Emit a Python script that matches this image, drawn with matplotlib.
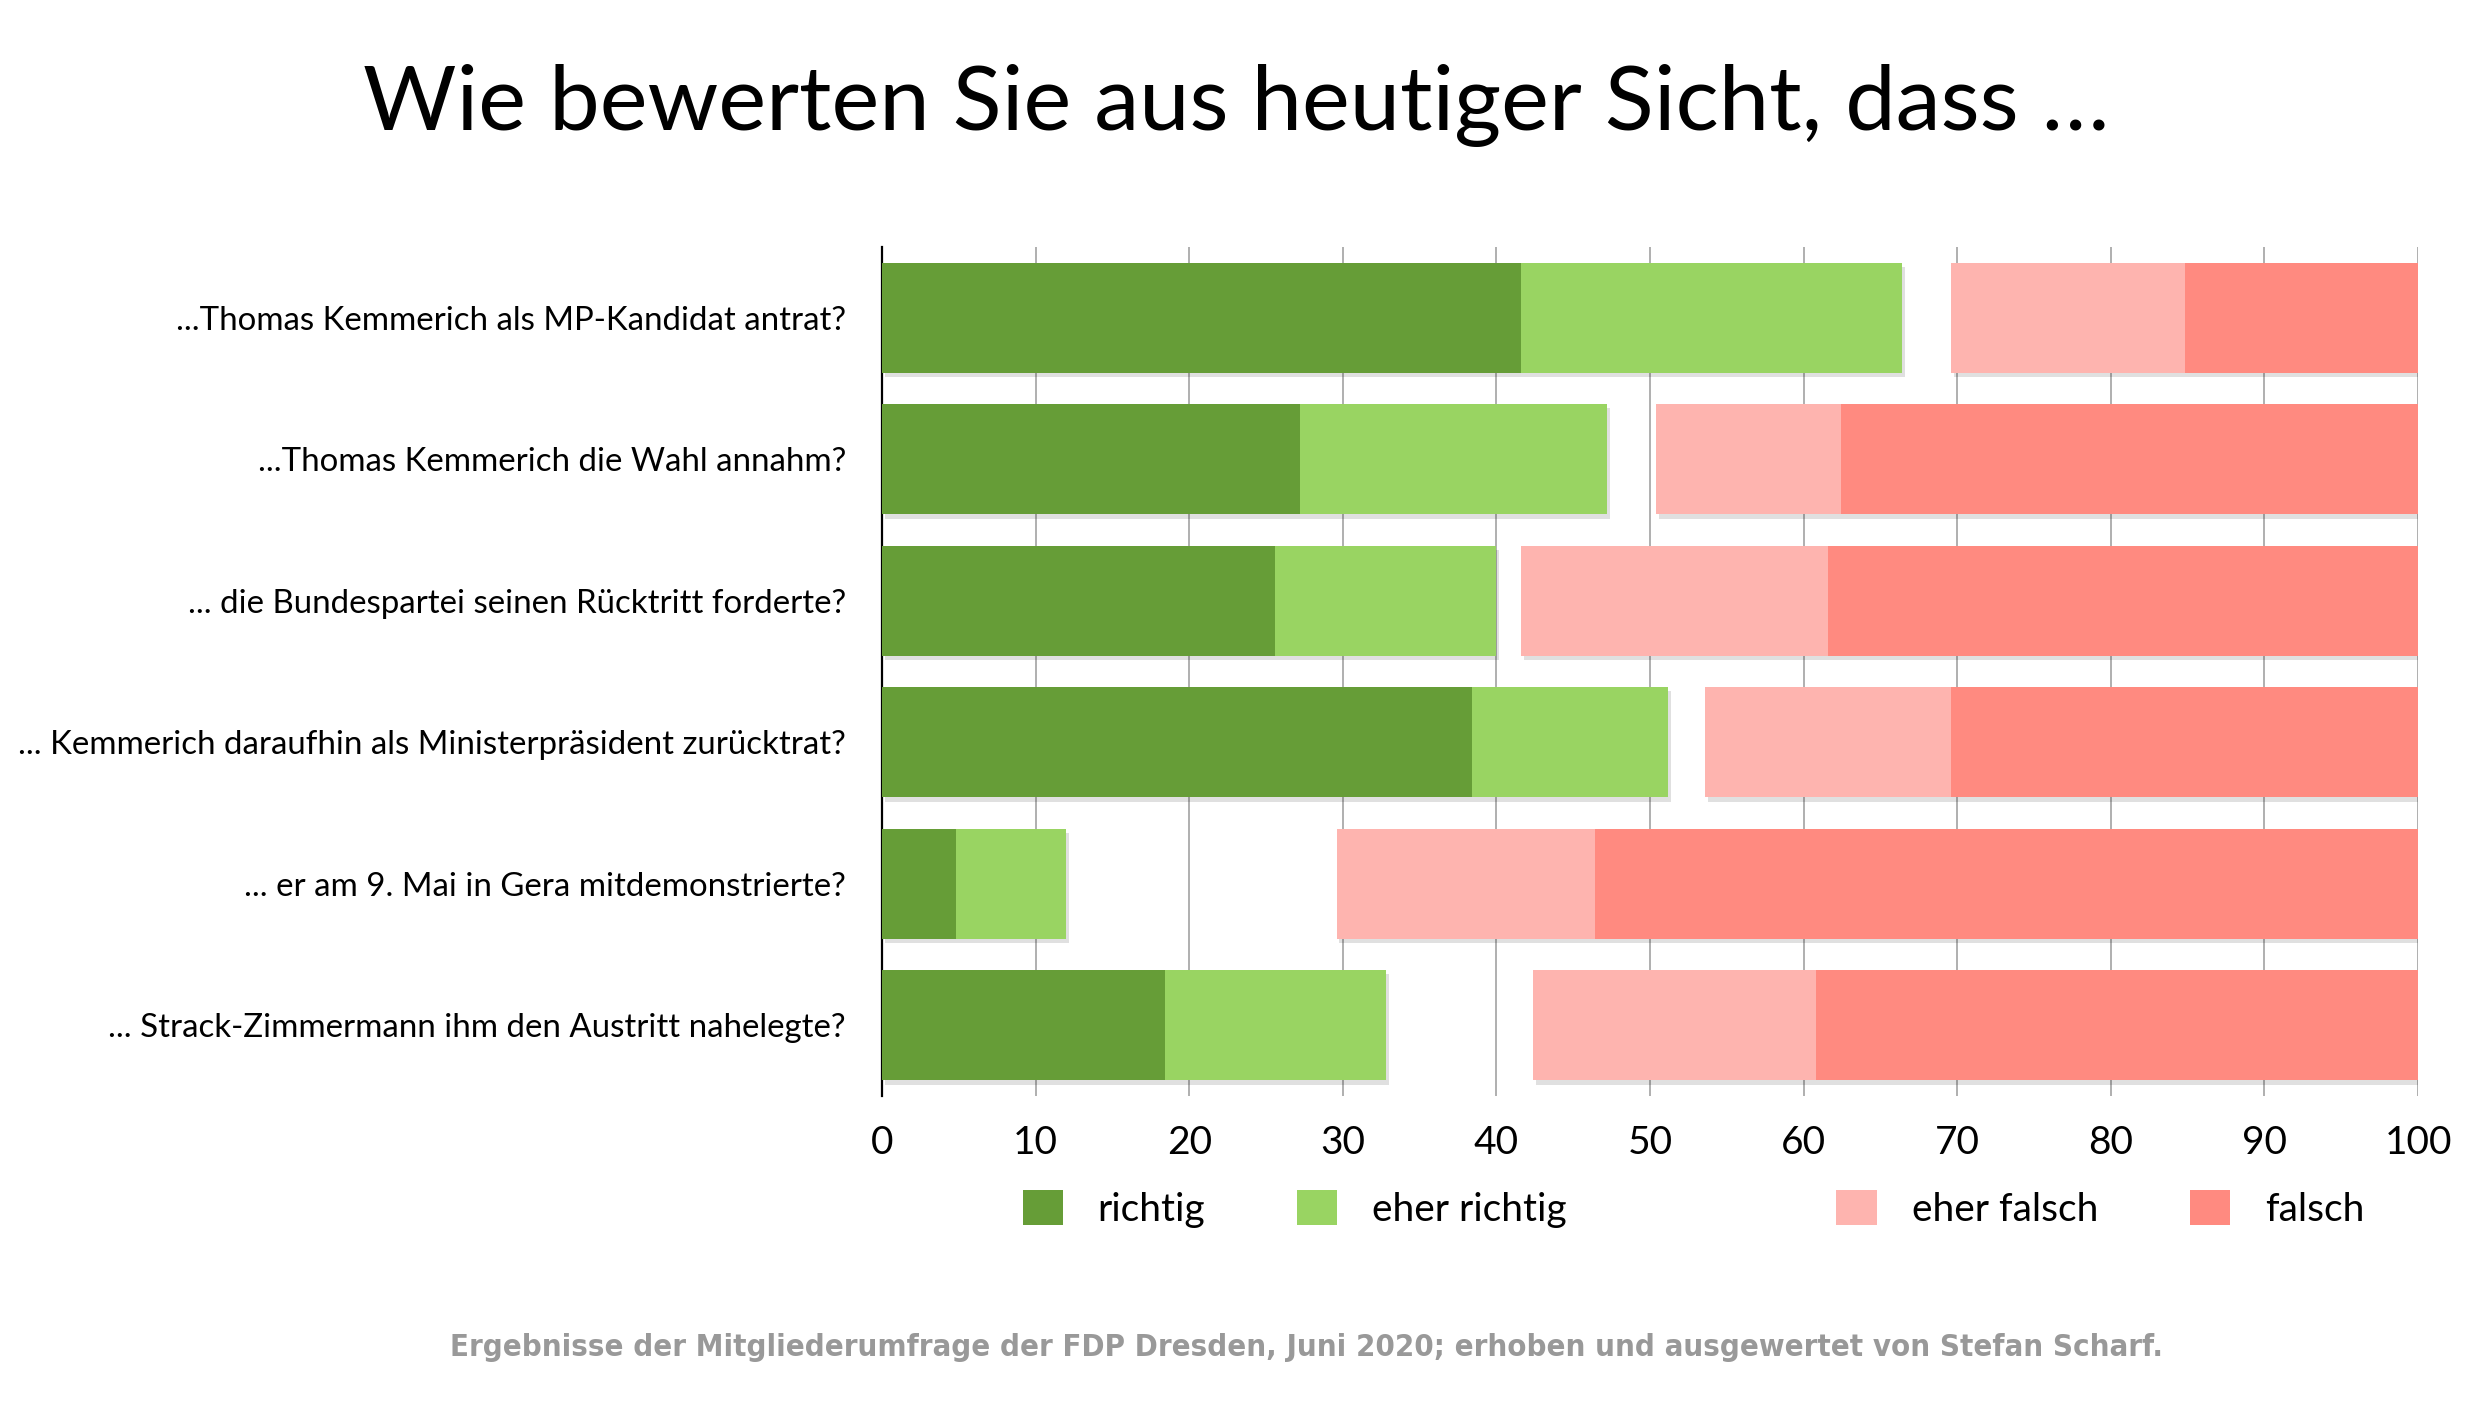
import numpy as np
import matplotlib.pyplot as plt
import matplotlib.patheffects as pe
from matplotlib.patches import Patch
from matplotlib import font_manager

# ─────────────────────────────────────────────
# Data (percent of respondents)
# ─────────────────────────────────────────────
fragen = [
    "...Thomas Kemmerich als MP-Kandidat antrat?",
    "...Thomas Kemmerich die Wahl annahm?",
    "... die Bundespartei seinen Rücktritt forderte?",
    "... Kemmerich daraufhin als Ministerpräsident zurücktrat?",
    "... er am 9. Mai in Gera mitdemonstrierte?",
    "... Strack-Zimmermann ihm den Austritt nahelegte?",
]
richtig = [41.6, 27.2, 25.6, 38.4, 4.8, 18.4]
eher_richtig = [24.8, 20.0, 14.4, 12.8, 7.2, 14.4]
keine_angabe = [3.2, 3.2, 1.6, 2.4, 17.6, 9.6]   # drawn invisible (gap)
eher_falsch = [15.2, 12.0, 20.0, 16.0, 16.8, 18.4]
falsch = [15.2, 37.6, 38.4, 30.4, 53.6, 39.2]

series = [
    ("richtig", richtig, "#669D37"),
    ("eher richtig", eher_richtig, "#99D462"),
    ("", keine_angabe, None),
    ("eher falsch", eher_falsch, "#FEB4AF"),
    ("falsch", falsch, "#FF8A80"),
]

FONT = "Lato"
FOOTER = "Ergebnisse der Mitgliederumfrage der FDP Dresden, Juni 2020; erhoben und ausgewertet von Stefan Scharf."

STRETCH = {"ultra-condensed": 100, "extra-condensed": 200, "condensed": 300,
           "semi-condensed": 400, "normal": 500}


def weight_num(f):
    w = f.weight
    if isinstance(w, str):
        return font_manager.weight_dict.get(w, 400)
    return w


def stretch_num(f):
    s = f.stretch
    if isinstance(s, str):
        s = STRETCH.get(s, 500)
    if "Narrow" in f.name or "Condensed" in f.name:
        s = min(s, 300)
    return s


# pick the narrowest bold face for the footer
fonts = font_manager.fontManager.ttflist
cands = [f for f in fonts if weight_num(f) >= 600 and stretch_num(f) < 500]
cands.sort(key=lambda f: (stretch_num(f), abs(weight_num(f) - 700)))
if cands:
    foot_prop = font_manager.FontProperties(fname=cands[0].fname, size=26)
else:
    foot_prop = font_manager.FontProperties(family="DejaVu Sans", weight="bold", size=22)

fig = plt.figure(figsize=(24.88, 14.02), dpi=100)
ax = fig.add_axes([0.3545, 0.2183, 0.6174, 0.6055])

y = np.arange(len(fragen))
left = np.zeros(len(fragen))
shadow = [pe.SimplePatchShadow(offset=(2, -3), shadow_rgbFace="#000000", alpha=0.12), pe.Normal()]
for label, vals, color in series:
    vals = np.array(vals)
    if color is not None:
        bars = ax.barh(y, vals, left=left, height=0.78, color=color, zorder=3)
        for b in bars:
            b.set_path_effects(shadow)
    left += vals

ax.set_xlim(0, 100)
ax.set_ylim(-0.5, len(fragen) - 0.5)
ax.invert_yaxis()

ax.set_xticks(np.arange(0, 101, 10))
ax.xaxis.grid(True, color="#9a9a9a", linewidth=1.1, zorder=0)
ax.set_axisbelow(True)
ax.set_yticks(y)
ax.set_yticklabels(fragen, fontsize=23.8, family=FONT)
for t in ax.get_xticklabels():
    t.set_fontsize(28)
    t.set_family(FONT)
ax.tick_params(axis="x", length=0, pad=21)
ax.tick_params(axis="y", length=0, pad=26)

for s in ["top", "right", "bottom"]:
    ax.spines[s].set_visible(False)
ax.spines["left"].set_color("black")
ax.spines["left"].set_linewidth(1.6)

# Title
fig.text(0.497, 0.925, "Wie bewerten Sie aus heutiger Sicht, dass …",
         ha="center", va="center", fontsize=65, family=FONT)

# Legend (with an empty slot for the invisible segment)
handles = []
for label, vals, color in series:
    if color is None:
        handles.append(Patch(facecolor="none", edgecolor="none", label=" "))
    else:
        handles.append(Patch(facecolor=color, edgecolor="none", label=label))
leg = fig.legend(handles=handles, loc="center left", bbox_to_anchor=(0.411, 0.1377),
                 ncol=5, frameon=False, prop={"family": FONT, "size": 28},
                 handlelength=1.03, handleheight=1.03, handletextpad=0.9,
                 columnspacing=2.37, borderpad=0, borderaxespad=0)

# Footer, squeezed to the width it has in the original
foot = fig.text(0.525, 0.039, FOOTER, ha="center", va="center",
                color="#999999", fontproperties=foot_prop)
fig.canvas.draw()
w = foot.get_window_extent().width
target = 1710.0
if w > 0:
    foot_prop.set_size(foot_prop.get_size() * min(1.15, max(0.75, target / w)))
    foot.set_fontproperties(foot_prop)

fig.savefig("out.png", dpi=100)
